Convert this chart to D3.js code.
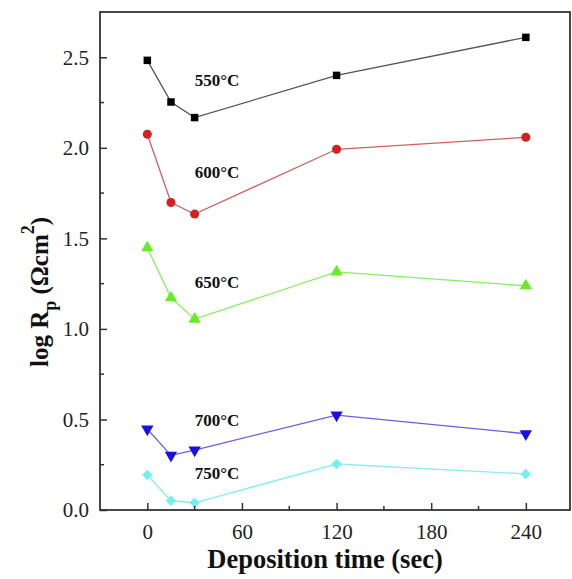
<!DOCTYPE html>
<html><head><meta charset="utf-8">
<script src="https://cdn.jsdelivr.net/npm/d3@7"></script>
<style>body{margin:0;background:#fff}svg{display:block}text{font-family:"Liberation Serif","Times New Roman",serif}</style>
</head><body>
<svg id="c" width="572" height="579"></svg>
<script>
const times = [0, 15, 30, 120, 240];
const s550 = [2.483, 2.253, 2.167, 2.400, 2.610];
const s600 = [2.075, 1.698, 1.634, 1.992, 2.058];
const s650 = [1.448, 1.172, 1.054, 1.315, 1.238];
const s700 = [0.447, 0.302, 0.331, 0.524, 0.421];
const s750 = [0.193, 0.051, 0.040, 0.254, 0.199];
const seriesNames = ["550°C", "600°C", "650°C", "700°C", "750°C"];
const seriesVals = [s550, s600, s650, s700, s750];
const markerColors = ["#000000", "#d42020", "#66ee22", "#1a10e6", "#77eeee"];
const lineColors = ["#555555", "#d06060", "#88ee66", "#6a5ee0", "#88eeee"];
const xTicks = [0, 60, 120, 180, 240];
const xMinor = [30, 90, 150, 210];
const yTicks = [0, 0.5, 1.0, 1.5, 2.0, 2.5];
const yMinor = [0.25, 0.75, 1.25, 1.75, 2.25];

const svg = d3.select("#c");
const L = 100, R = 570, T = 12, B = 510;
const x = d3.scaleLinear().domain([-30, 268]).range([L, R]);
const y = d3.scaleLinear().domain([0, 2.75]).range([B, T]);

const markerTypes = [d3.symbolSquare, d3.symbolCircle, d3.symbolTriangle, d3.symbolTriangle, d3.symbolSquare];
const markerSizes = [56, 64, 66, 66, 54];
const markerRot = [0, 0, 0, 180, 45];

// lines & markers
const line = d3.line().x((d, i) => x(times[i])).y(d => y(d));
seriesVals.forEach((vals, k) => {
  svg.append("path").attr("d", line(vals)).attr("fill", "none")
    .attr("stroke", lineColors[k]).attr("stroke-width", 1.3);
  const sym = d3.symbol().type(markerTypes[k]).size(markerSizes[k]);
  svg.selectAll(null).data(vals).enter().append("path")
    .attr("d", sym)
    .attr("transform", (d, i) => `translate(${x(times[i])},${y(d)}) rotate(${markerRot[k]})`)
    .attr("fill", markerColors[k]);
});

// series labels (pixel baselines)
const labelY = [86, 178, 288, 426, 479];
seriesNames.forEach((n, k) => {
  svg.append("text").attr("x", x(30)).attr("y", labelY[k])
    .attr("font-size", 17).attr("font-weight", "bold").attr("fill", "#111").text(n);
});

// frame
svg.append("rect").attr("x", L).attr("y", T).attr("width", R - L).attr("height", B - T)
  .attr("fill", "none").attr("stroke", "#333").attr("stroke-width", 1.8);

// x ticks (inward)
const xAxis = d3.axisBottom(x).tickValues(xTicks).tickSize(-7).tickPadding(14).tickFormat(d3.format("d"));
const gx = svg.append("g").attr("transform", `translate(0,${B})`).call(xAxis);
gx.select(".domain").remove();
gx.selectAll(".tick line").attr("stroke", "#333").attr("stroke-width", 1.5);
gx.selectAll(".tick text").attr("font-size", 21).attr("fill", "#222").attr("font-family", "Liberation Serif, serif");
svg.append("g").selectAll("line").data(xMinor).enter().append("line")
  .attr("x1", d => x(d)).attr("x2", d => x(d)).attr("y1", B).attr("y2", B - 4)
  .attr("stroke", "#333").attr("stroke-width", 1.5);

// y ticks
const yAxis = d3.axisLeft(y).tickValues(yTicks).tickSize(-7).tickPadding(11).tickFormat(d3.format(".1f"));
const gy = svg.append("g").attr("transform", `translate(${L},0)`).call(yAxis);
gy.select(".domain").remove();
gy.selectAll(".tick line").attr("stroke", "#333").attr("stroke-width", 1.5);
gy.selectAll(".tick text").attr("font-size", 21).attr("fill", "#222").attr("font-family", "Liberation Serif, serif");
svg.append("g").selectAll("line").data(yMinor).enter().append("line")
  .attr("y1", d => y(d)).attr("y2", d => y(d)).attr("x1", L).attr("x2", L + 4)
  .attr("stroke", "#333").attr("stroke-width", 1.5);

// axis titles
svg.append("text").attr("x", 325).attr("y", 568).attr("text-anchor", "middle")
  .attr("font-size", 26.5).attr("font-weight", "bold").attr("fill", "#111").text("Deposition time (sec)");
const yt = svg.append("text").attr("transform", "translate(48,292) rotate(-90)").attr("text-anchor", "middle")
  .attr("font-size", 25).attr("font-weight", "bold").attr("fill", "#111");
yt.append("tspan").text("log R");
yt.append("tspan").attr("font-size", 18).attr("dy", 8).text("p");
yt.append("tspan").attr("dy", -8).text(" (Ωcm");
yt.append("tspan").attr("font-size", 18).attr("dy", -14).text("2");
yt.append("tspan").attr("dy", 14).text(")");
</script>
</body></html>
